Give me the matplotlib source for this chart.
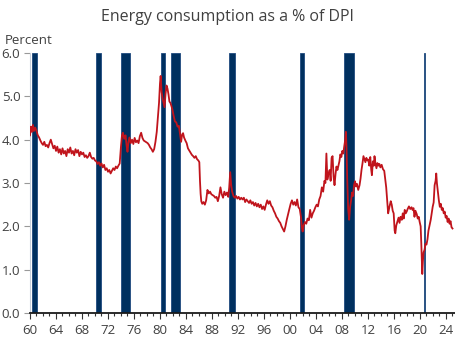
import matplotlib.pyplot as plt
from matplotlib.ticker import MultipleLocator, FuncFormatter

plt.rcParams['font.family'] = ['Open Sans', 'DejaVu Sans']

# energy consumption as % of DPI (decimal year, percent)
years = [
    1960.0, 1960.15, 1960.3, 1960.45, 1960.6, 1960.8, 1961.0, 1961.2, 1961.4, 1961.6, 1961.8,
    1962.0, 1962.2, 1962.4, 1962.6, 1962.8, 1963.0, 1963.2, 1963.4, 1963.6, 1963.8,
    1964.0, 1964.2, 1964.4, 1964.6, 1964.8, 1965.0, 1965.2, 1965.4, 1965.6, 1965.8,
    1966.0, 1966.2, 1966.4, 1966.6, 1966.8, 1967.0, 1967.2, 1967.4, 1967.6, 1967.8,
    1968.0, 1968.2, 1968.4, 1968.6, 1968.8, 1969.0, 1969.2, 1969.4, 1969.6, 1969.8,
    1970.0, 1970.2, 1970.4, 1970.6, 1970.8, 1971.0, 1971.2, 1971.4, 1971.6, 1971.8,
    1972.0, 1972.2, 1972.4, 1972.6, 1972.8, 1973.0, 1973.2, 1973.4, 1973.6, 1973.8,
    1974.0, 1974.15, 1974.3, 1974.5, 1974.7, 1974.85, 1975.0, 1975.15, 1975.3, 1975.5, 1975.7, 1975.9,
    1976.1, 1976.3, 1976.5, 1976.7, 1976.9, 1977.1, 1977.3, 1977.5, 1977.7, 1977.9,
    1978.1, 1978.3, 1978.5, 1978.7, 1978.9, 1979.1, 1979.3, 1979.5, 1979.7, 1979.85,
    1980.0, 1980.1, 1980.25, 1980.4, 1980.55, 1980.7, 1980.85, 1981.0, 1981.15, 1981.3, 1981.45,
    1981.6, 1981.75, 1981.9, 1982.1, 1982.3, 1982.5, 1982.7, 1982.9, 1983.1, 1983.25, 1983.4,
    1983.55, 1983.7, 1983.9, 1984.1, 1984.3, 1984.5, 1984.7, 1984.9, 1985.1, 1985.3, 1985.5,
    1985.7, 1985.9, 1986.05, 1986.15, 1986.25, 1986.35, 1986.5, 1986.7, 1986.9, 1987.1, 1987.3,
    1987.5, 1987.7, 1987.9, 1988.1, 1988.3, 1988.5, 1988.7, 1988.9, 1989.1, 1989.3, 1989.5,
    1989.7, 1989.9, 1990.1, 1990.3, 1990.5, 1990.65, 1990.8, 1990.95, 1991.1, 1991.3, 1991.5,
    1991.7, 1991.9, 1992.1, 1992.3, 1992.5, 1992.7, 1992.9, 1993.1, 1993.3, 1993.5, 1993.7,
    1993.9, 1994.1, 1994.3, 1994.5, 1994.7, 1994.9, 1995.1, 1995.3, 1995.5, 1995.7, 1995.9,
    1996.1, 1996.3, 1996.5, 1996.7, 1996.9, 1997.1, 1997.3, 1997.5, 1997.7, 1997.9,
    1998.1, 1998.3, 1998.5, 1998.7, 1998.9, 1999.1, 1999.3, 1999.5, 1999.7, 1999.9,
    2000.1, 2000.3, 2000.5, 2000.7, 2000.9, 2001.1, 2001.3, 2001.5, 2001.7, 2001.85, 2001.95,
    2002.1, 2002.3, 2002.5, 2002.7, 2002.9, 2003.1, 2003.3, 2003.5, 2003.7, 2003.9,
    2004.1, 2004.3, 2004.5, 2004.7, 2004.9, 2005.1, 2005.3, 2005.45, 2005.6, 2005.75, 2005.9,
    2006.1, 2006.25, 2006.4, 2006.55, 2006.7, 2006.85, 2007.0, 2007.15, 2007.3, 2007.45,
    2007.6, 2007.75, 2007.9, 2008.05, 2008.2, 2008.35, 2008.5, 2008.6, 2008.7, 2008.8, 2008.95,
    2009.1, 2009.25, 2009.4, 2009.55, 2009.7, 2009.85, 2010.0, 2010.15, 2010.3, 2010.5,
    2010.7, 2010.85, 2011.0, 2011.15, 2011.3, 2011.45, 2011.6, 2011.75, 2011.9, 2012.05,
    2012.2, 2012.35, 2012.5, 2012.6, 2012.75, 2012.9, 2013.0, 2013.15, 2013.3, 2013.45,
    2013.6, 2013.75, 2013.9, 2014.1, 2014.3, 2014.5, 2014.65, 2014.8, 2014.95, 2015.1,
    2015.3, 2015.5, 2015.65, 2015.8, 2015.95, 2016.1, 2016.2, 2016.35, 2016.5, 2016.7,
    2016.85, 2017.0, 2017.2, 2017.35, 2017.5, 2017.65, 2017.8, 2017.95, 2018.1, 2018.3,
    2018.5, 2018.7, 2018.85, 2019.0, 2019.15, 2019.3, 2019.5, 2019.65, 2019.8, 2019.95,
    2020.1, 2020.2, 2020.3, 2020.35, 2020.45, 2020.55, 2020.7, 2020.85, 2021.0, 2021.15,
    2021.3, 2021.5, 2021.65, 2021.8, 2021.95, 2022.1, 2022.25, 2022.4, 2022.5, 2022.6,
    2022.75, 2022.9, 2023.05, 2023.2, 2023.35, 2023.5, 2023.65, 2023.8, 2023.95, 2024.1,
    2024.25, 2024.4, 2024.55, 2024.7, 2024.85, 2025.0,
]
values = [
    4.10, 4.30, 4.18, 4.34, 4.20, 4.28, 4.20, 4.10, 4.05, 3.98, 3.92,
    3.88, 3.95, 3.85, 3.88, 3.82, 3.92, 4.00, 3.90, 3.80, 3.86,
    3.74, 3.84, 3.70, 3.78, 3.66, 3.80, 3.68, 3.74, 3.62, 3.78,
    3.70, 3.82, 3.68, 3.74, 3.64, 3.78, 3.70, 3.76, 3.62, 3.72,
    3.66, 3.70, 3.60, 3.64, 3.58, 3.62, 3.70, 3.60, 3.56, 3.58,
    3.52, 3.50, 3.44, 3.48, 3.40, 3.45, 3.36, 3.42, 3.30, 3.34,
    3.26, 3.30, 3.22, 3.28, 3.34, 3.30, 3.38, 3.34, 3.40, 3.45,
    3.85, 4.10, 4.16, 4.02, 4.10, 3.88, 3.72, 3.95, 4.05, 3.92, 4.00, 3.90,
    4.04, 3.94, 3.98, 3.92, 4.08, 4.16, 4.04, 3.98, 3.96, 3.94,
    3.92, 3.88, 3.82, 3.78, 3.72, 3.78, 3.95, 4.18, 4.55, 4.85,
    5.30, 5.47, 5.10, 4.95, 4.85, 4.75, 5.05, 5.25, 5.18, 5.05, 4.88,
    4.85, 4.78, 4.70, 4.55, 4.42, 4.40, 4.30, 4.32, 4.10, 3.95, 4.12,
    4.15, 4.05, 3.98, 3.92, 3.80, 3.75, 3.70, 3.65, 3.62, 3.58, 3.62,
    3.55, 3.52, 3.48, 3.05, 2.75, 2.58, 2.52, 2.56, 2.50, 2.60, 2.84,
    2.76, 2.80, 2.74, 2.72, 2.70, 2.66, 2.68, 2.58, 2.70, 2.90, 2.74,
    2.66, 2.80, 2.72, 2.78, 2.68, 2.90, 3.25, 2.95, 2.80, 2.70, 2.66,
    2.70, 2.64, 2.68, 2.62, 2.66, 2.62, 2.66, 2.56, 2.62, 2.58, 2.54,
    2.60, 2.52, 2.56, 2.48, 2.54, 2.46, 2.52, 2.44, 2.50, 2.40, 2.46,
    2.38, 2.50, 2.60, 2.52, 2.58, 2.48, 2.44, 2.36, 2.30, 2.22,
    2.18, 2.12, 2.08, 2.00, 1.94, 1.88, 2.00, 2.15, 2.28, 2.40,
    2.52, 2.60, 2.50, 2.56, 2.48, 2.62, 2.44, 2.40, 2.20, 1.95, 1.88,
    2.02, 2.10, 2.06, 2.18, 2.14, 2.38, 2.20, 2.30, 2.36, 2.44,
    2.50, 2.46, 2.62, 2.70, 2.90, 2.80, 3.05, 3.00, 3.68, 3.08, 3.20,
    3.30, 3.05, 3.58, 3.62, 3.15, 2.95, 3.20, 3.38, 3.30, 3.40,
    3.50, 3.66, 3.60, 3.74, 3.68, 3.85, 4.00, 4.18, 3.80, 3.10, 2.40,
    2.15, 2.45, 2.60, 2.78, 2.70, 2.95, 3.04, 2.92, 2.98, 2.84,
    2.95, 3.10, 3.30, 3.45, 3.62, 3.55, 3.48, 3.58, 3.52, 3.54,
    3.40, 3.60, 3.30, 3.18, 3.50, 3.40, 3.62, 3.45, 3.34, 3.46,
    3.40, 3.44, 3.36, 3.42, 3.32, 3.28, 3.10, 2.90, 2.60, 2.30,
    2.45, 2.58, 2.50, 2.36, 2.30, 1.90, 1.84, 2.02, 2.10, 2.20,
    2.08, 2.22, 2.15, 2.30, 2.18, 2.38, 2.30, 2.34, 2.40, 2.46,
    2.40, 2.44, 2.38, 2.42, 2.22, 2.36, 2.28, 2.18, 2.22, 2.10,
    2.00, 1.60, 1.10, 0.90, 1.20, 1.40, 1.46, 1.60, 1.58, 1.70,
    1.90, 2.05, 2.15, 2.30, 2.45, 2.55, 2.95, 3.05, 3.22, 3.00,
    2.80, 2.60, 2.45, 2.52, 2.38, 2.42, 2.30, 2.34, 2.20, 2.24,
    2.10, 2.18, 2.06, 2.12, 1.98, 1.95,
]

# recession shading as placed on the chart
rec_start = [1960.26, 1970.1, 1973.95, 1980.15, 1981.64, 1990.66, 2001.54, 2008.3, 2020.6]
rec_end = [1961.12, 1970.92, 1975.38, 1980.77, 1983.03, 1991.54, 2002.2, 2009.85, 2020.8]

fig = plt.figure(figsize=(4.55, 3.63), dpi=100)
ax = fig.add_axes([30 / 455, 50 / 363, 425 / 455, 260 / 363])

for s, e in zip(rec_start, rec_end):
    ax.axvspan(s, e, ymin=0, ymax=1, facecolor='#00305f', edgecolor='#1f4a7f', linewidth=0.6, zorder=1)

ax.plot(years, values, color='#c0141c', linewidth=1.3, zorder=3)

ax.set_xlim(1960, 1960 + 425 / 6.5)
ax.set_ylim(0, 6)

ax.xaxis.set_major_locator(MultipleLocator(4))
ax.xaxis.set_minor_locator(MultipleLocator(1))
ax.xaxis.set_major_formatter(FuncFormatter(lambda v, p: '%02d' % (int(round(v)) % 100)))
ax.yaxis.set_major_locator(MultipleLocator(1))
ax.yaxis.set_major_formatter(FuncFormatter(lambda v, p: '%.1f' % v))

for side in ['top', 'right']:
    ax.spines[side].set_visible(False)
ax.spines['left'].set_color('#c8d0dc')
ax.spines['left'].set_linewidth(0.8)
ax.spines['bottom'].set_color('#1a1a1a')
ax.spines['bottom'].set_linewidth(1.3)
ax.spines['bottom'].set_zorder(4)

ax.tick_params(axis='y', length=4, width=0.8, color='#999999', labelsize=9.5, labelcolor='#404040', pad=3)
ax.tick_params(axis='x', which='major', length=4, width=0.8, color='#333333', labelsize=9.5, labelcolor='#404040', pad=4)
ax.tick_params(axis='x', which='minor', length=2.5, width=0.8, color='#333333')

fig.text(0.5, 1 - 17 / 363, 'Energy consumption as a % of DPI', ha='center', va='center',
         fontsize=11.5, color='#404040')
fig.text(5 / 455, 1 - 40 / 363, 'Percent', ha='left', va='center', fontsize=9.5, color='#404040')

fig.savefig('out.png', dpi=100)
